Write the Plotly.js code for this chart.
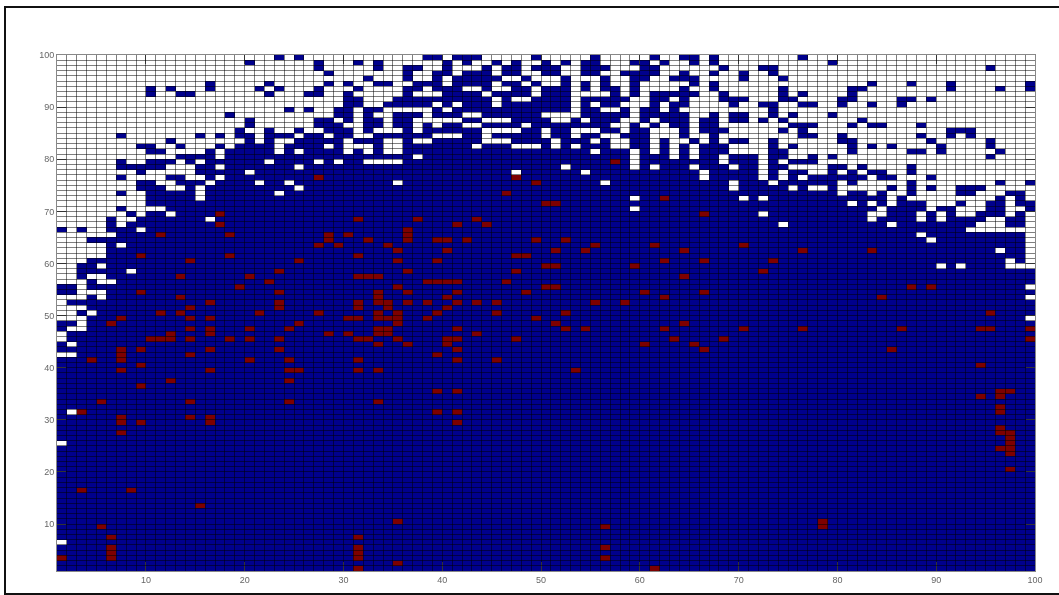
<!DOCTYPE html>
<html><head><meta charset="utf-8">
<script src="https://cdn.plot.ly/plotly-3.0.1.min.js"></script>
<style>
html,body{margin:0;padding:0;background:#fff;overflow:hidden}
#frame{position:absolute;left:4px;top:6px;width:1070px;height:585px;border:2px solid #111;box-sizing:content-box}
#plot{position:absolute;left:0;top:0;width:1059px;height:595px;filter:blur(0.45px)}
</style></head><body>
<div id="plot"></div><div id="frame"></div>
<script>
// Rows 99 down to 81: columns holding a blue cell (everything else is white)
const blueRowsTop = [
"23 25 38 39 41-43 49 55 61 64 65 67 76",
"20 27 31 33 40 42 45 47 50 52 54 55 59 60 62 65 67 79",
"27 33 36 37 40 44 46 47 49-51 54-56 60 61 68 72 73 95",
"28 36 39 40 42-44 46 47 50 51 54 55 58-61 64 67 70 73",
"32 36 39 41-45 48 52 56 59 60 63-65 70 74",
"16 22 28 30 33 34 37-39 41-44 46 47 49 52 54 56 59 65 67 83 87 91 99",
"10 12 16 21 23 27 31 36 37 39-41 44 47 48 50-52 54 56 57 59 64 67 74 81 82 91 96 99",
"10 13 14 22 26 27 30 36 40-43 45-48 50-52 57 59 61-65 68 74 76 81",
"30 31 35-44 46 49-52 54-58 61 62 64 68-70 74 75 80 81 86 87 89",
"30 31 34-38 40 42-44 46-52 54 56 57 61 63 64 69 72 73 76 77 80 83 86",
"24 26 29 30 32 33 39 41-52 54 55 58 60 61 63 73",
"18 29 30 32 35-37 39-41 44-49 54-58 60-64 67 69 70 73 75 79",
"20 27 28 30 32 33 35 36 42 43 47-50 53 55-57 60 62-64 66 67 69 70 72 74 82",
"20 27-29 32 33 35 36 38 40 41 44-47 49-56 59 61 63 64 66 67 75-77 81 83 84 88",
"19 22 25 28-30 32 36 38-43 48 49 51 52 56 57 59 60 64 66-68 74 76 91-93",
"7 15 17 19 20 22-24 26 27 29 30 33-38 42 43 45-49 51 52 54 55 58-60 64 67 76 77 80 88 91 93",
"12 20 22 25-29 31-33 36 39-43 47-50 52-54 56 59 60 62 65 67 69 70 73 80 81 89 95",
"9 10 13 17 19-22 24-27 29 33 36-42 44-46 50 52 54-56 59 60 62 64 66-68 73 75 81 83 85 90 95",
"10 11 16 18-22 24 26-29 31 33 36-54 56-58 60 62 64 66-68 73 74 81 87 88 90 96"
];
// Rows 80 down to 42: columns holding a white cell (everything else is blue)
const whiteRowsMid = [
"1-12 17 37 59 63 65 68 72 75 76 78 80-94 96-99",
"1-6 8 9 13 15 22 27 29 32-35 59 68 72 74 78-99",
"1-6 12-14 17 25 52 59 61 65 69 72 75-78 81 83-86 88-99",
"1-8 10-14 20 47 54 66 72 74 77 78 80 82 85 86 88-99",
"1-6 8-11 14 15 17 66 72 74 76 83 86-88 90-99",
"1-8 11 12 16 21 24 35 56 69 73 80 82-86 88-95 97 98",
"1-8 12 13 15 25 69 75 77 78 80-84 86 88 90 91 95-99",
"1-6 8 9 15 23 80 83 85 86 88-91 94-96 99",
"1-9 15 59 70 72 85 87-95 97 99",
"1-9 81 83 85 89-91 93 94 97",
"1-6 8-11 59 84 89 92-94 97 98",
"1-7 9 12 72 83 84 88 90 92 93 97 99",
"1-5 7 8 16 83 88 90 95 96 99",
"1-5 7 74 85 94-96 99",
"2 4 5 9 93-99",
"1-6 88 99",
"1-3 89 99",
"1-5 7 99",
"1-5 96 99",
"1-5 99",
"1-3 97 99",
"1 2 5 90 92 97-99",
"1 2 8",
"1 2 4 5",
"1-3 5 6",
"3 99",
"3-5",
"1-3 5 99",
"1",
"1-3",
"1 2 4",
"1-3 99",
"3",
"2 3",
"1",
"1",
"2",
"",
"1 2"
];
// Isolated white cells below row 42
const whiteLowRows = [31, 25, 6];
const whiteLowCols = [2, 1, 1];
// Red cells: row numbers and the columns they occupy
const redRows = [79,76,75,73,72,71,69,68,67,66,65,64,63,62,61,60,59,58,57,56,55,54,53,52,51,50,49,48,47,46,45,44,43,42,41,40,39,37,36,35,34,33,32,31,30,29,28,27,26,25,24,23,20,16,13,10,9,7,5,4,3,2,1];
const redCols = [
"57","27 47","49","46","62","50 51","17 66","31 37 43","17 41 44","36","11 18 28 30 36",
"28 32 36 39 40 42 49 52","27 29 34 55 61 70","35 40 51 54 64 76 83","9 18 31 47 48","14 25 35 39 62 66 73",
"50 51 59","23 36 47 72","13 20 31-33 64","22 38-41 46","19 35 50 51 87 89","9 23 33 36 41 48 60 66",
"13 33 40 62 84","16 23 31 33 34 36 38 41 43 45 55 58","14 23 31 34 40","11 13 21 27 33 35 39 45 52 95",
"7 14 16 30 31 33-35 38 49","6 25 35 51 64","14 16 20 24 33 34 41 52 54 62 70 76 86 94 95 99",
"12 16 28 30 33 34 43","10-12 14 18 20 23 31 32 35 40 41 47 63 68 99","33 36 40 60 65","7 9 16 23 41 66 85",
"7 14 39","4 7 20 24 31 41 45","9 94","7 16 24 25 31 33 53","12 24","9","39 41 96 97","94 96","5 14 24 33","96",
"3 39 41 96","7 14 16","7 9 16 41","96","7 96 97","97","97","96 97","97","97","3 8","15","35 78","5 56 78","6 31",
"6 31 56","6 31","1 6 31 56","35","31 61"
];
const xTickVals = [10,20,30,40,50,60,70,80,90,100];
const yTickVals = [10,20,30,40,50,60,70,80,90,100];

const N = 99;
function cols(s){ const o=[]; s.trim().split(/\s+/).filter(Boolean).forEach(t=>{ const p=t.split('-').map(Number); for(let c=p[0];c<=(p[1]||p[0]);c++) o.push(c); }); return o; }
const z=[]; for(let r=0;r<N;r++){ z.push(new Array(N).fill(1)); }
blueRowsTop.forEach((s,i)=>{ const r=99-i; z[r-1].fill(0); cols(s).forEach(c=>{ z[r-1][c-1]=1; }); });
whiteRowsMid.forEach((s,i)=>{ const r=80-i; cols(s).forEach(c=>{ z[r-1][c-1]=0; }); });
whiteLowRows.forEach((r,i)=>{ z[r-1][whiteLowCols[i]-1]=0; });
redRows.forEach((r,i)=>{ cols(redCols[i]).forEach(c=>{ z[r-1][c-1]=2; }); });
const centers=[]; for(let i=1;i<=N;i++) centers.push(i+0.5);

const cellLine={tickmode:'linear',tick0:1,dtick:1,ticks:'inside',tickwidth:1,tickcolor:'rgba(0,0,0,0.5)',showgrid:false};
const axisBase={range:[1,100],tickmode:'array',tickvals:xTickVals,ticktext:xTickVals.map(String),showgrid:false,zeroline:false,
  showline:true,mirror:'ticks',linecolor:'#888',linewidth:1,ticks:'inside',ticklen:9,tickwidth:1,tickcolor:'#333',
  tickfont:{family:'"Liberation Sans",Arial,sans-serif',size:9,color:'#666'}};
Plotly.newPlot('plot',[{type:'heatmap',x:centers,y:centers,z:z,zmin:0,zmax:2,showscale:false,hoverinfo:'skip',
  colorscale:[[0,'#ffffff'],[0.5,'#00008c'],[1,'#7d0000']]}],
  {width:1059,height:595,margin:{l:57,r:24,t:55,b:24,pad:0},paper_bgcolor:'rgba(0,0,0,0)',plot_bgcolor:'#ffffff',
   xaxis:Object.assign({},axisBase,{minor:Object.assign({},cellLine,{ticklen:516})}),
   yaxis:Object.assign({},axisBase,{tickvals:yTickVals,ticktext:yTickVals.map(String),minor:Object.assign({},cellLine,{ticklen:978})}),showlegend:false},
  {displayModeBar:false,staticPlot:true});
</script></body></html>
